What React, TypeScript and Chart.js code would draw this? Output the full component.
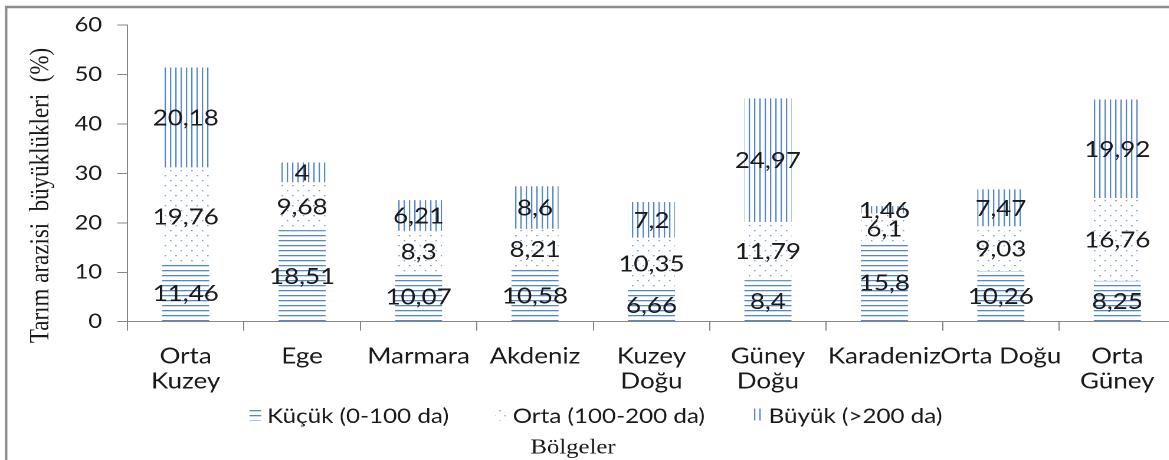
import React, { useEffect, useRef } from 'react';
import { Chart, registerables } from 'chart.js';

Chart.register(...registerables);

// ---- data ----
const categories: (string | string[])[] = [
  ['Orta', 'Kuzey'], 'Ege', 'Marmara', 'Akdeniz', ['Kuzey', 'Doğu'],
  ['Güney', 'Doğu'], 'Karadeniz', 'Orta Doğu', ['Orta', 'Güney'],
];
const kucuk = [11.46, 18.51, 10.07, 10.58, 6.66, 8.4, 15.8, 10.26, 8.25];
const orta = [19.76, 9.68, 8.3, 8.21, 10.35, 11.79, 6.1, 9.03, 16.76];
const buyuk = [20.18, 4, 6.21, 8.6, 7.2, 24.97, 1.46, 7.47, 19.92];
const seriesLabels = ['Küçük (0-100 da)', 'Orta (100-200 da)', 'Büyük (>200 da)'];
const yTitle = 'Tarım arazisi  büyüklükleri  (%)';
const xTitle = 'Bölgeler';
const yMin = 0;
const yMax = 60;
const yStep = 10;

// ---- layout / style ----
const SX = 1.18; // horizontal stretch of the whole picture
const CW = 1010;
const CH = 460;
const AX = '#868686';
const TXT = '#1a1a1a';
const LINE_BLUE = '#5487cc';
const DOT_BLUE = '#7aa3da';
const X_AXIS_H = 75;

function makePattern(kind: 'h' | 'v' | 'd', color: string): CanvasPattern | string {
  const R = 4;
  let w = 4, h = 5;
  if (kind === 'v') { w = 4.5; h = 4; }
  if (kind === 'd') { w = 9; h = 10; }
  const c = document.createElement('canvas');
  c.width = Math.round(w * R);
  c.height = Math.round(h * R);
  const g = c.getContext('2d')!;
  g.fillStyle = color;
  if (kind === 'h') g.fillRect(0, 0, c.width, 1.3 * R);
  if (kind === 'v') g.fillRect(0, 0, 1.15 * R, c.height);
  if (kind === 'd') {
    g.fillRect(0, 0, 1.3 * R, 1.3 * R);
    g.fillRect(4.5 * R, 5 * R, 1.3 * R, 1.3 * R);
  }
  const p = g.createPattern(c, 'repeat');
  if (!p) return color;
  p.setTransform(new DOMMatrix().scale(1 / R));
  return p;
}

const fmt = (v: number) => String(v).replace('.', ',');

const decorPlugin = {
  id: 'decor',
  beforeDraw(chart: any) {
    const ctx = chart.ctx as CanvasRenderingContext2D;
    ctx.save();
    ctx.strokeStyle = '#8c8c8c';
    ctx.lineWidth = 2;
    ctx.beginPath();
    ctx.moveTo(5.25, 6);
    ctx.lineTo(5.25, CH + 5);
    ctx.stroke();
    ctx.lineWidth = 2.6;
    ctx.beginPath();
    ctx.moveTo(4.25, 7);
    ctx.lineTo(CW + 5, 7);
    ctx.stroke();
    ctx.restore();
  },
  afterDatasetsDraw(chart: any) {
    const ctx = chart.ctx as CanvasRenderingContext2D;
    ctx.save();
    // data labels
    ctx.font = '22px Lato';
    ctx.fillStyle = TXT;
    ctx.textAlign = 'center';
    ctx.textBaseline = 'middle';
    chart.data.datasets.forEach((ds: any, di: number) => {
      const meta = chart.getDatasetMeta(di);
      meta.data.forEach((bar: any, i: number) => {
        const v = ds.data[i];
        const y = (bar.y + bar.base) / 2;
        ctx.fillText(fmt(v), bar.x, y + 1);
      });
    });
    // y title
    ctx.save();
    ctx.translate(34.8, 195.5);
    ctx.rotate(-Math.PI / 2);
    ctx.font = '23px "Liberation Serif"';
    ctx.textAlign = 'center';
    ctx.textBaseline = 'middle';
    ctx.fillText(yTitle, 0, 0);
    ctx.restore();
    // x title
    ctx.font = '21px "Liberation Serif"';
    ctx.textAlign = 'center';
    ctx.textBaseline = 'middle';
    ctx.fillText(xTitle, 573 / SX, 448);
    // legend
    ctx.font = '20.5px Lato';
    ctx.textAlign = 'left';
    ctx.textBaseline = 'alphabetic';
    const boxW = 10, boxH = 12, gapIcon = 5, gapItem = 39;
    const items = chart.data.datasets.map((ds: any) => ({ label: ds.label, fill: ds.backgroundColor }));
    const widths = items.map((it: any) => boxW + gapIcon + ctx.measureText(it.label).width);
    const total = widths.reduce((a: number, b: number) => a + b, 0) + gapItem * (items.length - 1);
    let x = CW / 2 - total / 2;
    items.forEach((it: any, i: number) => {
      ctx.fillStyle = it.fill;
      ctx.fillRect(x, 408.5, boxW, boxH);
      ctx.fillStyle = TXT;
      ctx.fillText(it.label, x + boxW + gapIcon, 423);
      x += widths[i] + gapItem;
    });
    ctx.restore();
  },
};

export default function App() {
  const ref = useRef<HTMLCanvasElement>(null);
  useEffect(() => {
    document.body.style.margin = '0';
    const canvas = ref.current!;
    const chart = new Chart(canvas, {
      type: 'bar',
      data: {
        labels: categories as any,
        datasets: [
          { label: seriesLabels[0], data: kucuk, backgroundColor: makePattern('h', LINE_BLUE) as any, borderWidth: 0 },
          { label: seriesLabels[1], data: orta, backgroundColor: makePattern('d', DOT_BLUE) as any, borderWidth: 0 },
          { label: seriesLabels[2], data: buyuk, backgroundColor: makePattern('v', LINE_BLUE) as any, borderWidth: 0 },
        ],
      },
      options: {
        responsive: false,
        animation: false,
        devicePixelRatio: 2,
        events: [],
        categoryPercentage: 1,
        barPercentage: 0.404,
        layout: { padding: { top: 23.6, left: 0, right: 13.8, bottom: 460 - 321.7 - X_AXIS_H } },
        plugins: { legend: { display: false }, tooltip: { enabled: false }, title: { display: false } },
        scales: {
          x: {
            stacked: true,
            offset: true,
            grid: { display: true, drawOnChartArea: false, drawTicks: true, tickLength: 9, color: AX, lineWidth: 1 },
            border: { display: true, color: AX, width: 1 },
            ticks: { color: TXT, font: { family: 'Lato', size: 22, lineHeight: 1.14 }, padding: 13, maxRotation: 0, autoSkip: false },
            afterFit: (s: any) => { s.height = X_AXIS_H; },
          },
          y: {
            stacked: true,
            min: yMin,
            max: yMax,
            ticks: { stepSize: yStep, color: TXT, font: { family: 'Lato', size: 20 }, padding: 13 },
            grid: { display: true, drawOnChartArea: false, drawTicks: true, tickLength: 8.5, color: AX, lineWidth: 1 },
            border: { display: true, color: AX, width: 1 },
            afterFit: (s: any) => { s.width = 108; },
          },
        },
      } as any,
      plugins: [decorPlugin],
    });
    return () => chart.destroy();
  }, []);
  return (
    <div style={{ position: 'fixed', left: 0, top: 0, width: 1169, height: 460, overflow: 'hidden', background: '#fff' }}>
      <div style={{ width: CW, height: CH, transform: `scaleX(${SX})`, transformOrigin: '0 0' }}>
        <canvas ref={ref} width={CW} height={CH} style={{ display: 'block', width: CW, height: CH }} />
      </div>
    </div>
  );
}
